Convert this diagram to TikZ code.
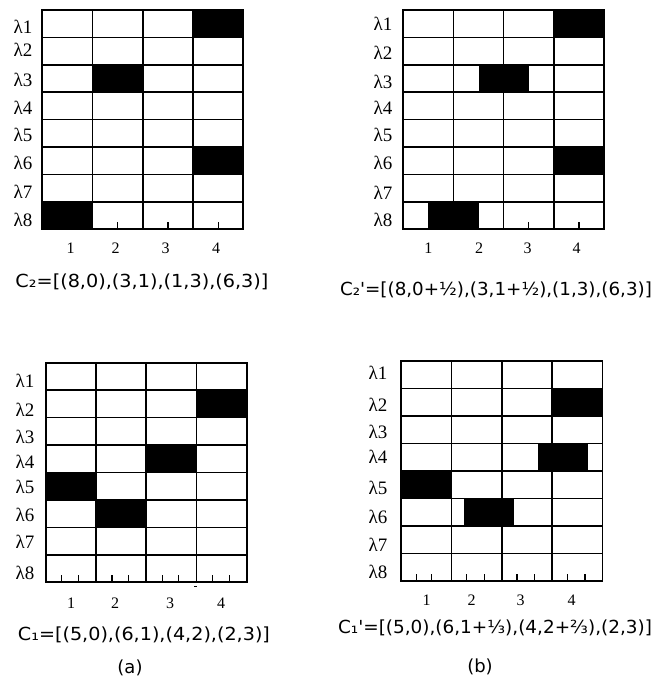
\documentclass[tikz,border=0pt]{standalone}
\usepackage{graphicx}
\usepackage{fontspec}
\setmainfont{Liberation Serif}
\newfontfamily\capfont{DejaVu Sans}[Ligatures=TeXOff]
\tikzset{
  gridline/.style={line width=1.7pt},
  blk/.style={fill=black},
  lam/.style={font=\fontsize{19}{19}\selectfont, inner sep=0pt},
  num/.style={font=\fontsize{16}{16}\selectfont, inner sep=0pt},
  captxt/.style={font=\capfont\fontsize{18}{18}\selectfont, inner sep=0pt},
  tickmark/.style={line width=1.2pt},
}
% #1=L #2=T #3=W #4=H
\newcommand{\mygrid}[4]{%
  \draw[gridline] (#1,#2) rectangle ({#1+4*#3},{#2+8*#4});
  \foreach \i in {1,2,3} \draw[gridline] ({#1+\i*#3},#2) -- ({#1+\i*#3},{#2+8*#4});
  \foreach \j in {1,...,7} \draw[gridline] (#1,{#2+\j*#4}) -- ({#1+4*#3},{#2+\j*#4});
}
% #5=col start (0-based), #6=row (1-based)
\newcommand{\mycell}[6]{%
  \fill[blk] ({#1+#5*#3},{#2+(#6-1)*#4}) rectangle ({#1+(#5+1)*#3},{#2+#6*#4});
}
% tick at fractional column position #5 on bottom line
\newcommand{\mytick}[5]{%
  \draw[tickmark] ({#1+#5*#3},{#2+8*#4}) -- ({#1+#5*#3},{#2+8*#4-7});
}
\newcommand{\fitw}[2]{\resizebox{#1pt}{\height}{#2}}
\begin{document}
\begin{tikzpicture}[x=1pt,y=-1pt]
\useasboundingbox[fill=white] (0,0) rectangle (655,684);

% ---------- Grid 1 (top-left) ----------
\def\La{42.3}\def\Ta{10}\def\Wa{50.25}\def\Ha{27.41}
\mycell{\La}{\Ta}{\Wa}{\Ha}{3}{1}
\mycell{\La}{\Ta}{\Wa}{\Ha}{1}{3}
\mycell{\La}{\Ta}{\Wa}{\Ha}{3}{6}
\mycell{\La}{\Ta}{\Wa}{\Ha}{0}{8}
\foreach \c in {1.5,2.5,3.5} {\mytick{\La}{\Ta}{\Wa}{\Ha}{\c}}
\mygrid{\La}{\Ta}{\Wa}{\Ha}
\foreach \n/\y in {1/27,2/50,3/80,4/108,5/135,6/163,7/192,8/220}
  \node[lam] (a\n) at (23,\y) {λ\n};
\foreach \n/\x in {1/70.7,2/115.7,3/165.7,4/216}
  \node[num] (an\n) at (\x,248) {\n};
\node[captxt] (capa) at (142,281.7) {\fitw{253}{C₂=[(8,0),(3,1),(1,3),(6,3)]}};

% ---------- Grid 2 (top-right) ----------
\def\Lb{403.3}\def\Tb{10}\def\Wb{50.17}\def\Hb{27.41}
\mycell{\Lb}{\Tb}{\Wb}{\Hb}{3}{1}
\mycell{\Lb}{\Tb}{\Wb}{\Hb}{1.5}{3}
\mycell{\Lb}{\Tb}{\Wb}{\Hb}{3}{6}
\mycell{\Lb}{\Tb}{\Wb}{\Hb}{0.5}{8}
\foreach \c in {2.5,3.5} {\mytick{\Lb}{\Tb}{\Wb}{\Hb}{\c}}
\mygrid{\Lb}{\Tb}{\Wb}{\Hb}
\foreach \n/\y in {1/24,2/53,3/82,4/108,5/135,6/163,7/193,8/220}
  \node[lam] (b\n) at (383,\y) {λ\n};
\foreach \n/\x in {1/428.3,2/479,3/527.7,4/576.7}
  \node[num] (bn\n) at (\x,248) {\n};
\node[captxt] (capb) at (496,290) {\fitw{312}{C₂'=[(8,0+½),(3,1+½),(1,3),(6,3)]}};

% ---------- Grid 3 (bottom-left) ----------
\def\Lc{45.7}\def\Tc{362.7}\def\Wc{50.25}\def\Hc{27.45}
\mycell{\Lc}{\Tc}{\Wc}{\Hc}{3}{2}
\mycell{\Lc}{\Tc}{\Wc}{\Hc}{2}{4}
\mycell{\Lc}{\Tc}{\Wc}{\Hc}{0}{5}
\mycell{\Lc}{\Tc}{\Wc}{\Hc}{1}{6}
\foreach \c in {0.32,0.65,1.32,1.65,2.32,2.65,3.32,3.65} {\mytick{\Lc}{\Tc}{\Wc}{\Hc}{\c}}
\mygrid{\Lc}{\Tc}{\Wc}{\Hc}
\draw[line width=1pt] (194,586.7) -- (196.5,586.7);
\foreach \n/\y in {1/380.7,2/410,3/436.7,4/461.7,5/486.7,6/515,7/541.7,8/573.3}
  \node[lam] (c\n) at (25,\y) {λ\n};
\foreach \n/\x in {1/71,2/115,3/170,4/221}
  \node[num] (cn\n) at (\x,603.3) {\n};
\node[captxt] (capc) at (144,635) {\fitw{252}{C₁=[(5,0),(6,1),(4,2),(2,3)]}};
\node[captxt] (laba) at (130,668.3) {(a)};

% ---------- Grid 4 (bottom-right) ----------
\def\Ld{401}\def\Td{361}\def\Wd{50.4}\def\Hd{27.5}
\mycell{\Ld}{\Td}{\Wd}{\Hd}{3}{2}
\mycell{\Ld}{\Td}{\Wd}{\Hd}{2.72}{4}
\mycell{\Ld}{\Td}{\Wd}{\Hd}{0}{5}
\mycell{\Ld}{\Td}{\Wd}{\Hd}{1.24}{6}
\foreach \c in {0.3,0.61,1.3,1.65,2.3,2.65,3.3,3.65} {\mytick{\Ld}{\Td}{\Wd}{\Hd}{\c}}
\mygrid{\Ld}{\Td}{\Wd}{\Hd}
\foreach \n/\y in {1/373.3,2/405,3/431.7,4/456.7,5/488.3,6/516.7,7/545,8/571.7}
  \node[lam] (d\n) at (378,\y) {λ\n};
\foreach \n/\x in {1/426.7,2/471.7,3/520.7,4/571.7}
  \node[num] (dn\n) at (\x,600) {\n};
\node[captxt] (capd) at (495,628.3) {\fitw{314}{C₁'=[(5,0),(6,1+⅓),(4,2+⅔),(2,3)]}};
\node[captxt] (labb) at (480,666.7) {(b)};
\end{tikzpicture}
\end{document}
